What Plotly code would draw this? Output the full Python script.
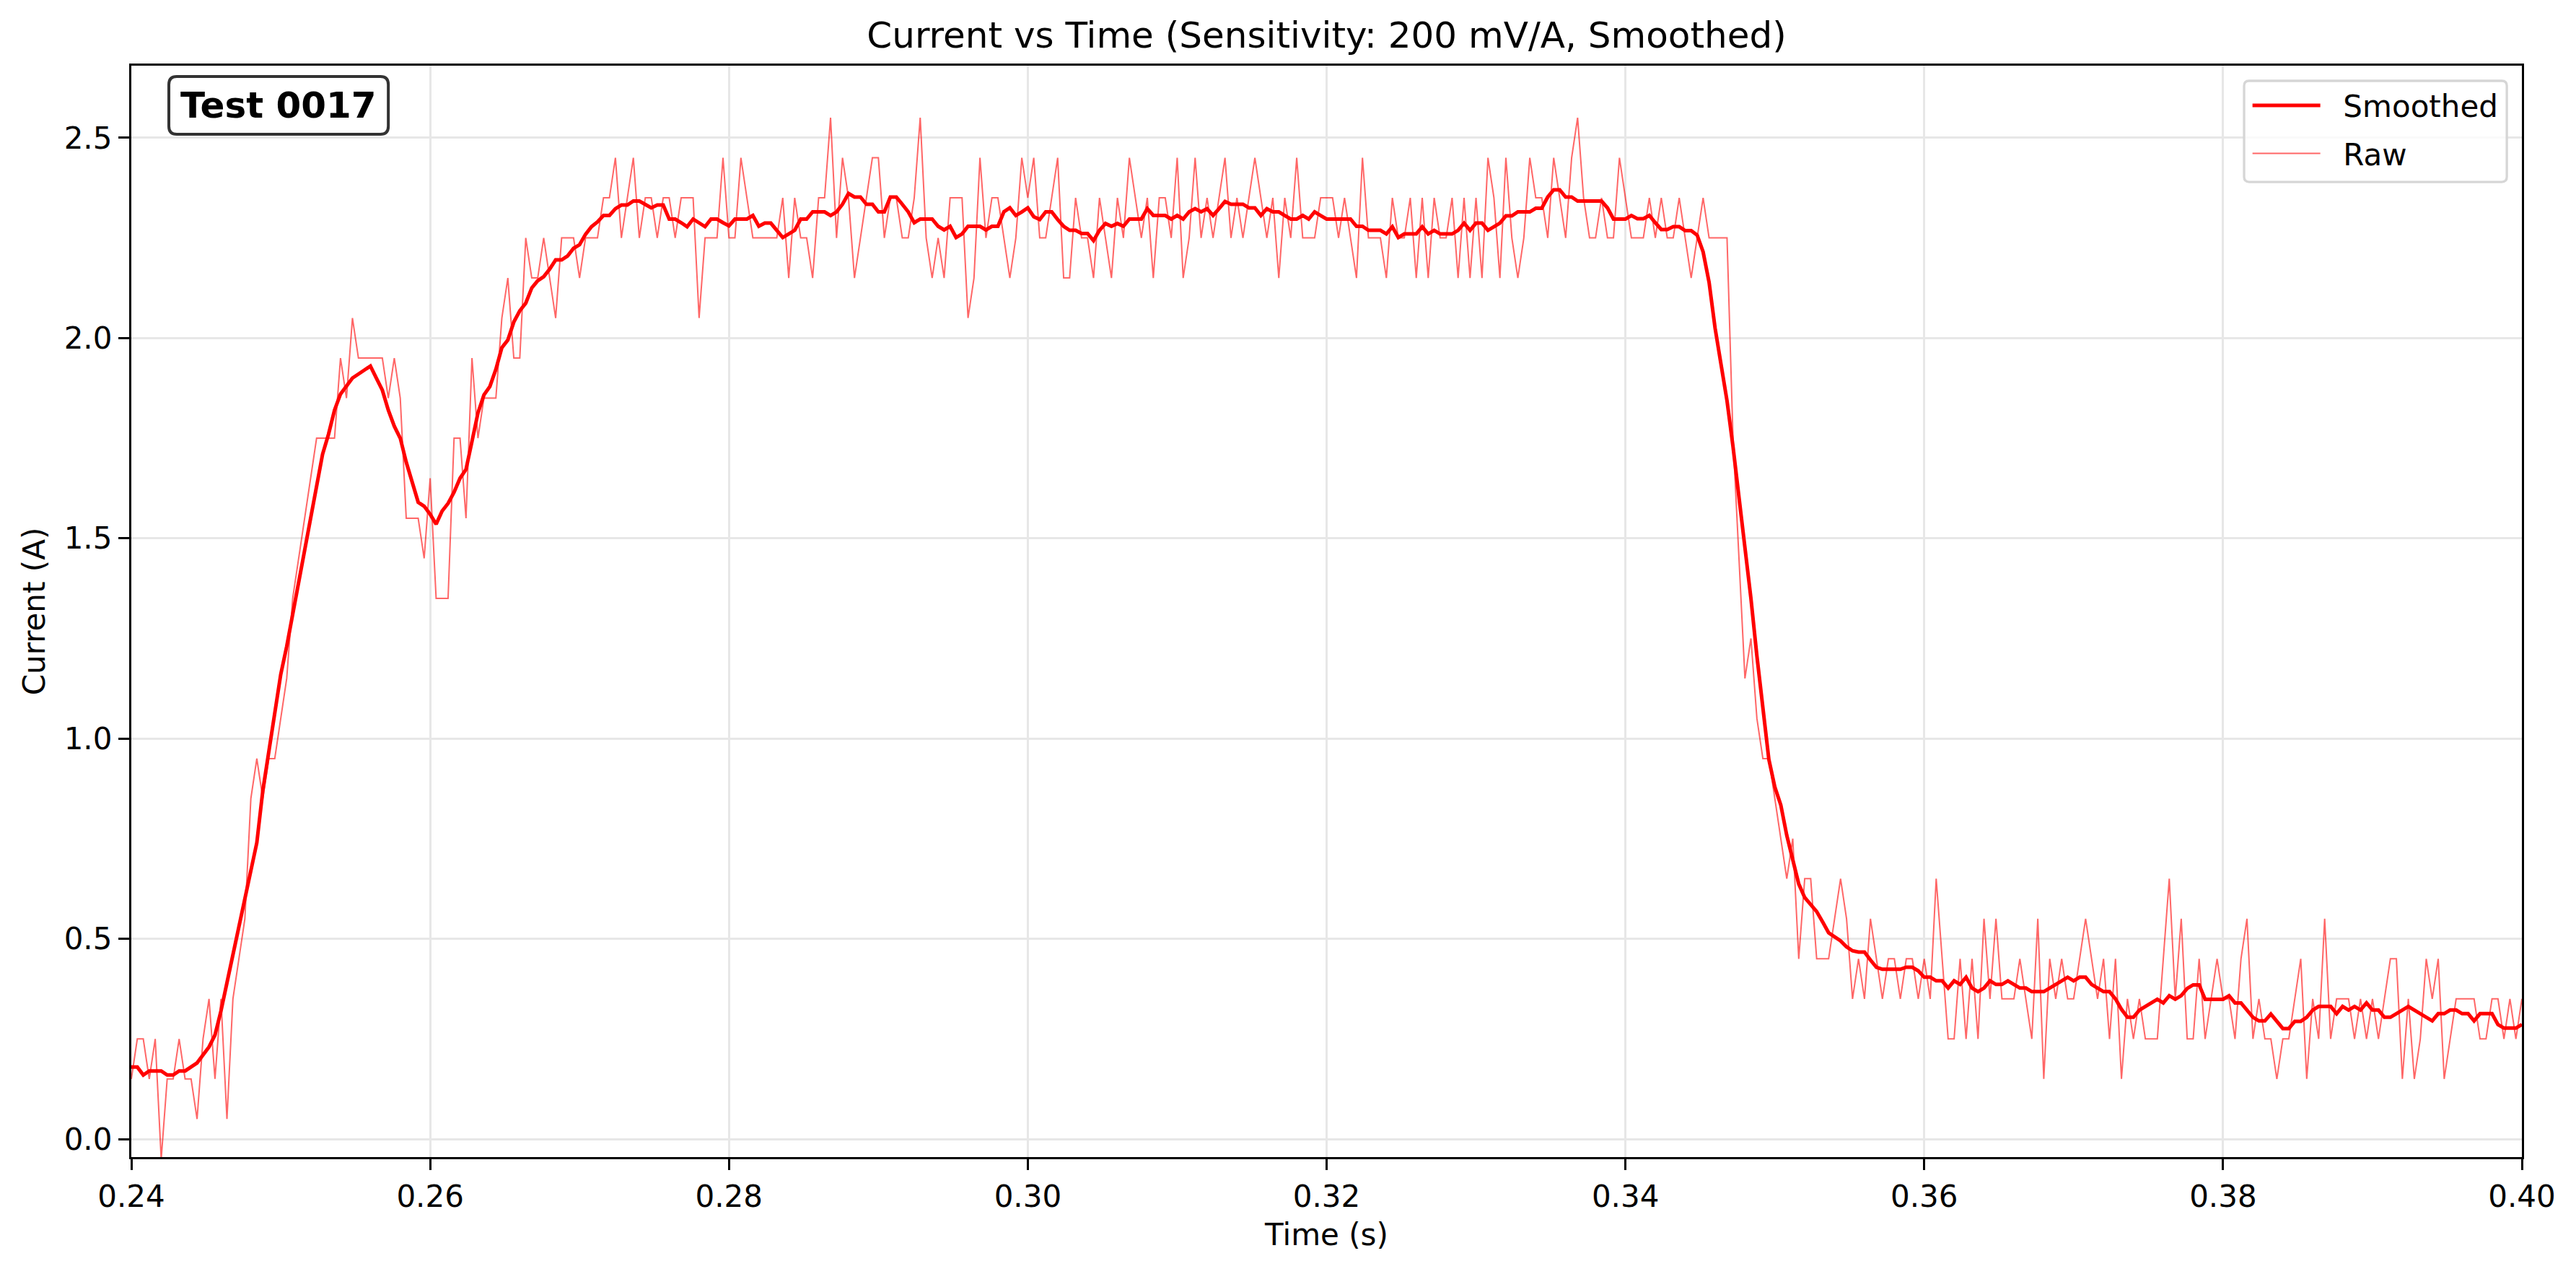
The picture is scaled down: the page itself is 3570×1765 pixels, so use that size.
import numpy as np
import plotly.graph_objects as go

T_START = 0.24
SAMPLE_PERIOD = 0.0004

raw_current = [
    0.15, 0.25, 0.25, 0.15, 0.25, -0.05, 0.15, 0.15, 0.25, 0.15,
    0.15, 0.05, 0.25, 0.35, 0.15, 0.35, 0.05, 0.35, 0.45, 0.55,
    0.85, 0.95, 0.85, 0.95, 0.95, 1.05, 1.15, 1.35, 1.45, 1.55,
    1.65, 1.75, 1.75, 1.75, 1.75, 1.95, 1.85, 2.05, 1.95, 1.95,
    1.95, 1.95, 1.95, 1.85, 1.95, 1.85, 1.55, 1.55, 1.55, 1.45,
    1.65, 1.35, 1.35, 1.35, 1.75, 1.75, 1.55, 1.95, 1.75, 1.85,
    1.85, 1.85, 2.05, 2.15, 1.95, 1.95, 2.25, 2.15, 2.15, 2.25,
    2.15, 2.05, 2.25, 2.25, 2.25, 2.15, 2.25, 2.25, 2.25, 2.35,
    2.35, 2.45, 2.25, 2.35, 2.45, 2.25, 2.35, 2.35, 2.25, 2.35,
    2.35, 2.25, 2.35, 2.35, 2.35, 2.05, 2.25, 2.25, 2.25, 2.45,
    2.25, 2.25, 2.45, 2.35, 2.25, 2.25, 2.25, 2.25, 2.25, 2.35,
    2.15, 2.35, 2.25, 2.25, 2.15, 2.35, 2.35, 2.55, 2.25, 2.45,
    2.35, 2.15, 2.25, 2.35, 2.45, 2.45, 2.25, 2.35, 2.35, 2.25,
    2.25, 2.35, 2.55, 2.25, 2.15, 2.25, 2.15, 2.35, 2.35, 2.35,
    2.05, 2.15, 2.45, 2.25, 2.35, 2.35, 2.25, 2.15, 2.25, 2.45,
    2.35, 2.45, 2.25, 2.25, 2.35, 2.45, 2.15, 2.15, 2.35, 2.25,
    2.25, 2.15, 2.35, 2.25, 2.15, 2.35, 2.25, 2.45, 2.35, 2.25,
    2.35, 2.15, 2.35, 2.35, 2.25, 2.45, 2.15, 2.25, 2.45, 2.25,
    2.35, 2.25, 2.35, 2.45, 2.25, 2.35, 2.25, 2.35, 2.45, 2.35,
    2.25, 2.35, 2.15, 2.35, 2.25, 2.45, 2.25, 2.25, 2.25, 2.35,
    2.35, 2.35, 2.25, 2.35, 2.25, 2.15, 2.45, 2.25, 2.25, 2.25,
    2.15, 2.35, 2.25, 2.25, 2.35, 2.15, 2.35, 2.15, 2.35, 2.25,
    2.25, 2.35, 2.15, 2.35, 2.15, 2.35, 2.15, 2.45, 2.35, 2.15,
    2.45, 2.25, 2.15, 2.25, 2.45, 2.35, 2.35, 2.25, 2.45, 2.35,
    2.25, 2.45, 2.55, 2.35, 2.25, 2.25, 2.35, 2.25, 2.25, 2.45,
    2.35, 2.25, 2.25, 2.25, 2.35, 2.25, 2.35, 2.25, 2.25, 2.35,
    2.25, 2.15, 2.25, 2.35, 2.25, 2.25, 2.25, 2.25, 1.75, 1.45,
    1.15, 1.25, 1.05, 0.95, 0.95, 0.85, 0.75, 0.65, 0.75, 0.45,
    0.65, 0.65, 0.45, 0.45, 0.45, 0.55, 0.65, 0.55, 0.35, 0.45,
    0.35, 0.55, 0.45, 0.35, 0.45, 0.45, 0.35, 0.45, 0.45, 0.35,
    0.45, 0.35, 0.65, 0.45, 0.25, 0.25, 0.45, 0.25, 0.45, 0.25,
    0.55, 0.35, 0.55, 0.35, 0.35, 0.35, 0.45, 0.35, 0.25, 0.55,
    0.15, 0.45, 0.35, 0.45, 0.35, 0.35, 0.45, 0.55, 0.45, 0.35,
    0.45, 0.25, 0.45, 0.15, 0.35, 0.25, 0.35, 0.25, 0.25, 0.25,
    0.45, 0.65, 0.35, 0.55, 0.25, 0.25, 0.45, 0.25, 0.35, 0.45,
    0.35, 0.35, 0.25, 0.45, 0.55, 0.25, 0.35, 0.25, 0.25, 0.15,
    0.25, 0.25, 0.35, 0.45, 0.15, 0.35, 0.25, 0.55, 0.25, 0.35,
    0.35, 0.35, 0.25, 0.35, 0.25, 0.35, 0.25, 0.35, 0.45, 0.45,
    0.15, 0.35, 0.15, 0.25, 0.45, 0.35, 0.45, 0.15, 0.25, 0.35,
    0.35, 0.35, 0.35, 0.25, 0.25, 0.35, 0.35, 0.25, 0.35, 0.25,
    0.35,
]

smoothed_current = [
    0.18, 0.18, 0.16, 0.17, 0.17, 0.17, 0.16, 0.16, 0.17, 0.17,
    0.18, 0.19, 0.21, 0.23, 0.26, 0.32, 0.39, 0.46, 0.53, 0.59,
    0.66, 0.74, 0.87, 0.97, 1.07, 1.16, 1.23, 1.31, 1.39, 1.47,
    1.55, 1.63, 1.71, 1.76, 1.82, 1.86, 1.88, 1.90, 1.91, 1.92,
    1.93, 1.90, 1.87, 1.82, 1.78, 1.75, 1.69, 1.64, 1.59, 1.58,
    1.56, 1.535, 1.568, 1.587, 1.615, 1.65, 1.672, 1.742, 1.813, 1.858,
    1.879, 1.922, 1.976, 1.995, 2.04, 2.068, 2.087, 2.125, 2.143, 2.153,
    2.172, 2.195, 2.195, 2.205, 2.224, 2.233, 2.259, 2.278, 2.29, 2.306,
    2.306, 2.323, 2.332, 2.332, 2.342, 2.342, 2.334, 2.325, 2.332, 2.332,
    2.297, 2.297, 2.288, 2.278, 2.297, 2.288, 2.278, 2.297, 2.297, 2.288,
    2.28, 2.297, 2.297, 2.297, 2.306, 2.279, 2.287, 2.287, 2.269, 2.251,
    2.26, 2.269, 2.297, 2.297, 2.315, 2.315, 2.315, 2.306, 2.315, 2.334,
    2.361, 2.352, 2.352, 2.334, 2.334, 2.315, 2.315, 2.352, 2.352, 2.334,
    2.315, 2.288, 2.297, 2.297, 2.297, 2.279, 2.27, 2.279, 2.251, 2.26,
    2.279, 2.279, 2.279, 2.27, 2.279, 2.279, 2.315, 2.325, 2.306, 2.315,
    2.325, 2.303, 2.296, 2.315, 2.315, 2.296, 2.279, 2.269, 2.269, 2.261,
    2.261, 2.243, 2.269, 2.286, 2.279, 2.286, 2.279, 2.297, 2.297, 2.297,
    2.323, 2.306, 2.306, 2.306, 2.297, 2.306, 2.297, 2.315, 2.323, 2.315,
    2.323, 2.306, 2.323, 2.341, 2.334, 2.334, 2.334, 2.325, 2.325, 2.306,
    2.323, 2.315, 2.315, 2.306, 2.297, 2.297, 2.306, 2.297, 2.315, 2.306,
    2.297, 2.297, 2.297, 2.297, 2.297, 2.279, 2.279, 2.269, 2.269, 2.269,
    2.26, 2.278, 2.251, 2.26, 2.26, 2.26, 2.278, 2.26, 2.269, 2.26,
    2.26, 2.26, 2.269, 2.287, 2.269, 2.287, 2.287, 2.269, 2.278, 2.287,
    2.305, 2.305, 2.315, 2.315, 2.315, 2.324, 2.324, 2.352, 2.37, 2.37,
    2.352, 2.352, 2.342, 2.342, 2.342, 2.342, 2.342, 2.325, 2.297, 2.297,
    2.297, 2.306, 2.298, 2.298, 2.306, 2.288, 2.271, 2.271, 2.278, 2.278,
    2.268, 2.268, 2.257, 2.215, 2.139, 2.025, 1.934, 1.843, 1.729, 1.608,
    1.479, 1.35, 1.206, 1.077, 0.948, 0.879, 0.834, 0.758, 0.697, 0.637,
    0.603, 0.587, 0.568, 0.542, 0.515, 0.505, 0.495, 0.48, 0.47, 0.467,
    0.467, 0.447, 0.429, 0.424, 0.424, 0.424, 0.424, 0.429, 0.429, 0.42,
    0.404, 0.404, 0.395, 0.395, 0.377, 0.395, 0.386, 0.404, 0.377, 0.368,
    0.377, 0.395, 0.386, 0.386, 0.395, 0.386, 0.377, 0.377, 0.368, 0.368,
    0.368, 0.377, 0.386, 0.395, 0.404, 0.395, 0.404, 0.404, 0.386, 0.377,
    0.368, 0.368, 0.35, 0.324, 0.304, 0.304, 0.322, 0.331, 0.34, 0.349,
    0.34, 0.358, 0.349, 0.358, 0.376, 0.385, 0.385, 0.349, 0.349, 0.349,
    0.349, 0.358, 0.34, 0.34, 0.322, 0.304, 0.295, 0.295, 0.312, 0.294,
    0.276, 0.276, 0.294, 0.294, 0.304, 0.322, 0.331, 0.331, 0.331, 0.313,
    0.331, 0.322, 0.331, 0.322, 0.34, 0.322, 0.322, 0.304, 0.304, 0.313,
    0.322, 0.331, 0.322, 0.313, 0.304, 0.295, 0.313, 0.313, 0.322, 0.322,
    0.313, 0.313, 0.295, 0.313, 0.313, 0.313, 0.286, 0.277, 0.277, 0.277,
    0.286,
]

x_ticks = [0.24, 0.26, 0.28, 0.30, 0.32, 0.34, 0.36, 0.38, 0.40]
y_ticks = [0.0, 0.5, 1.0, 1.5, 2.0, 2.5]
test_label = "Test 0017"

time_s = T_START + SAMPLE_PERIOD * np.arange(len(raw_current))

FONT = "DejaVu Sans"
GRID = "#e7e7e7"
GAP = "\u00a0\u00a0"  # space between legend line and label, like matplotlib


def rounded_box(x0, y0, x1, y1, rx, ry):
    # svg path for a rounded rectangle in paper coordinates
    return (f"M{x0 + rx},{y0} L{x1 - rx},{y0} Q{x1},{y0} {x1},{y0 + ry} "
            f"L{x1},{y1 - ry} Q{x1},{y1} {x1 - rx},{y1} L{x0 + rx},{y1} "
            f"Q{x0},{y1} {x0},{y1 - ry} L{x0},{y0 + ry} Q{x0},{y0} {x0 + rx},{y0} Z")


fig = go.Figure()
fig.add_trace(go.Scatter(x=time_s, y=raw_current, mode="lines", name=GAP + "Raw",
                         line=dict(color="rgba(255,0,0,0.6)", width=2),
                         legendrank=2, legendgroup="raw"))
fig.add_trace(go.Scatter(x=time_s, y=smoothed_current, mode="lines", name=GAP + "Smoothed",
                         line=dict(color="#ff0000", width=5),
                         legendrank=1, legendgroup="smoothed"))

axis_common = dict(
    showgrid=True, gridcolor=GRID, gridwidth=3.3, zeroline=False,
    showline=True, linecolor="black", linewidth=3.3, mirror=True,
    ticks="outside", ticklen=15, tickwidth=3.3, tickcolor="black",
    tickfont=dict(family=FONT, size=42, color="black"),
)

# page body has an 8px margin, so the figure is 8px smaller and shifted
fig.update_layout(
    width=3562, height=1757,
    margin=dict(l=174, r=75, t=83, b=162),
    plot_bgcolor="white", paper_bgcolor="white",
    font=dict(family=FONT, size=42, color="black"),
    title=dict(text="Current vs Time (Sensitivity: 200 mV/A, Smoothed)",
               font=dict(family=FONT, size=50, color="black"),
               x=0.5, xref="paper", xanchor="center",
               y=1 - 40 / 1757, yref="container", yanchor="middle"),
    xaxis=dict(range=[0.24, 0.40], tickvals=x_ticks, tickformat=".2f",
               title=dict(text="Time (s)", font=dict(family=FONT, size=42), standoff=16),
               **axis_common),
    yaxis=dict(range=[-0.045, 2.68], tickvals=y_ticks, tickformat=".1f",
               title=dict(text="Current (A)", font=dict(family=FONT, size=42), standoff=13),
               **axis_common),
    showlegend=True,
    legend=dict(x=0.8858, xanchor="left", y=0.986, yanchor="top",
                bgcolor="rgba(0,0,0,0)", borderwidth=0,
                font=dict(family=FONT, size=42, color="black"),
                itemwidth=94, traceorder="grouped", tracegroupgap=9),
)

# rounded legend frame (matplotlib style)
fig.add_shape(type="path", xref="paper", yref="paper", layer="above",
              path=rounded_box(0.8838, 0.8935, 0.9937, 0.9861, 0.0021, 0.0046),
              fillcolor="rgba(255,255,255,0.8)", line=dict(color="#d6d6d6", width=3.3))

# test id badge
fig.add_shape(type="path", xref="paper", yref="paper", layer="above",
              path=rounded_box(0.0157, 0.9372, 0.1075, 0.9901, 0.0033, 0.0073),
              fillcolor="rgba(255,255,255,0.8)", line=dict(color="#333333", width=4))
fig.add_annotation(text=f"<b>{test_label}</b>", xref="paper", yref="paper",
                   x=0.0616, y=0.9636, xanchor="center", yanchor="middle",
                   showarrow=False, font=dict(family=FONT, size=50, color="black"))

fig.write_html("out.html")
